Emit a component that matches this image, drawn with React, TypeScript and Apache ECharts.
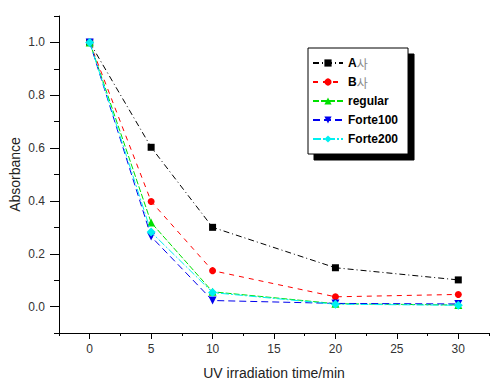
import React, { useEffect, useRef } from "react";
import * as echarts from "echarts";

const times = [0, 5, 10, 20, 30];
const seriesNames = ["A사", "B사", "regular", "Forte100", "Forte200"];
const aSa = [1.0, 0.603, 0.3, 0.147, 0.101];
const bSa = [1.0, 0.398, 0.136, 0.037, 0.046];
const regular = [1.0, 0.318, 0.056, 0.011, 0.006];
const forte100 = [1.0, 0.265, 0.023, 0.012, 0.01];
const forte200 = [1.0, 0.282, 0.053, 0.009, 0.005];
const xMajorTicks = [0, 5, 10, 15, 20, 25, 30];
const yMajorTicks = [0, 0.2, 0.4, 0.6, 0.8, 1.0];

const colors = ["#000000", "#ff0000", "#00e000", "#0000ee", "#00f0f0"];
const symbolSizes = [7, 7, 8, 8, 9];
const dashes: any[] = [[6, 3, 1, 3], [5, 5], [6, 2], [7, 4], [8, 2, 2, 2]];

export default function App() {
  const ref = useRef<HTMLDivElement>(null);
  useEffect(() => {
    const chart = echarts.init(ref.current!, undefined, { renderer: "svg" });
    const values = [aSa, bSa, regular, forte100, forte200];
    const invTri = "path://M0,0 L20,0 L10,17 Z";
    const syms = ["rect", "circle", "triangle", invTri, "diamond"];
    const axisText = { color: "#333", fontFamily: "Arial, Liberation Sans", fontSize: 12 };
    chart.setOption({
      animation: false,
      grid: { left: 59, right: 11, top: 16, bottom: 51, containLabel: false, outerBoundsMode: "none" },
      xAxis: [
        {
          type: "value",
          min: -2.5,
          max: 32.5,
          interval: 2.5,
          axisLine: { show: true, onZero: false, lineStyle: { color: "#000", width: 1 } },
          axisTick: { show: true, length: 3, lineStyle: { color: "#000" } },
          axisLabel: {
            ...axisText,
            margin: 10,
            formatter: (v: number) => (Math.abs(v % 5) < 1e-6 ? String(v) : ""),
          },
          splitLine: { show: false },
          name: "UV irradiation time/min",
          nameLocation: "middle",
          nameGap: 33,
          nameMoveOverlap: false,
          nameTextStyle: { color: "#222", fontFamily: "Arial, Liberation Sans", fontSize: 14 },
        },
        {
          type: "value",
          position: "bottom",
          min: -2.5,
          max: 32.5,
          interval: 2.5,
          axisLine: { show: false, onZero: false },
          axisTick: { show: true, length: 6, customValues: xMajorTicks, lineStyle: { color: "#000" } },
          axisLabel: { show: false },
          splitLine: { show: false },
        },
      ],
      yAxis: [
        {
          type: "value",
          min: -0.1,
          max: 1.1,
          interval: 0.1,
          axisLine: { show: true, onZero: false, lineStyle: { color: "#000", width: 1 } },
          axisTick: { show: true, length: 5, lineStyle: { color: "#000" } },
          axisLabel: {
            ...axisText,
            margin: 14,
            formatter: (v: number) => (Math.round(v * 10) % 2 === 0 ? v.toFixed(1) : ""),
          },
          splitLine: { show: false },
          name: "Absorbance",
          nameLocation: "middle",
          nameGap: 37,
          nameMoveOverlap: false,
          nameRotate: 90,
          nameTextStyle: { color: "#222", fontFamily: "Arial, Liberation Sans", fontSize: 14 },
        },
        {
          type: "value",
          position: "left",
          min: -0.1,
          max: 1.1,
          interval: 0.1,
          axisLine: { show: false, onZero: false },
          axisTick: { show: true, length: 9, customValues: yMajorTicks, lineStyle: { color: "#000" } },
          axisLabel: { show: false },
          splitLine: { show: false },
        },
      ],
      legend: {
        orient: "vertical",
        left: 308,
        top: 48,
        padding: [9, 10, 9, 4],
        itemGap: 7,
        itemWidth: 30,
        itemHeight: 9,
        backgroundColor: "#fff",
        borderColor: "#000",
        borderWidth: 1,
        shadowColor: "#000",
        shadowBlur: 0,
        shadowOffsetX: 6,
        shadowOffsetY: 6,
        data: seriesNames,
        formatter: (name: string) => {
          if (name.endsWith("사")) return "{b|" + name.slice(0, -1) + "}{k|사}";
          return "{b|" + name + "}";
        },
        textStyle: {
          rich: {
            b: { fontFamily: "Arial, Liberation Sans", fontWeight: "bold", fontSize: 12, color: "#000" },
            k: { fontFamily: "Noto Sans CJK KR", fontWeight: "normal", fontSize: 12, color: "#888" },
          },
        },
      },
      series: seriesNames.map((name, i) => ({
        name,
        type: "line",
        xAxisIndex: 0,
        yAxisIndex: 0,
        data: times.map((t, j) => [t, values[i][j]]),
        symbol: syms[i],
        symbolSize: symbolSizes[i],
        showAllSymbol: true,
        itemStyle: { color: colors[i] },
        lineStyle: { color: colors[i], width: 1, type: dashes[i] },
        z: 3 + i,
      })),
    });
    return () => chart.dispose();
  }, []);
  return (
    <div
      ref={ref}
      style={{ position: "absolute", left: 0, top: 0, width: 500, height: 384 }}
    />
  );
}
